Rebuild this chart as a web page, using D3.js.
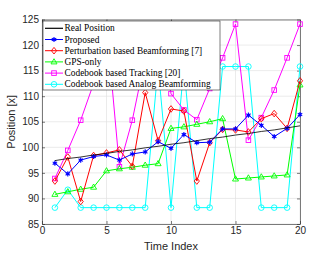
<!DOCTYPE html>
<html>
<head>
<script src="https://d3js.org/d3.v7.min.js"></script>
<style>
  body { margin: 0; background: #fff; }
</style>
</head>
<body>
<svg width="332" height="255"></svg>
<script>
var timeIndex = [1,2,3,4,5,6,7,8,9,10,11,12,13,14,15,16,17,18,19,20];
var realPos   = [97.4,97.8,98.1,98.5,98.8,99.2,99.5,99.9,100.2,100.6,100.9,101.3,101.7,102.0,102.4,102.7,103.1,103.4,103.8,104.2];
var proposed  = [96.9,94.8,97.5,98.2,98.5,97.5,98.7,99.1,101.1,99.8,102.5,100.9,101.0,103.6,103.6,106.3,104.3,102.1,103.7,106.4];
var perturb   = [93.4,98.1,89.4,98.4,98.9,99.5,96.3,110.7,101.3,107.5,107.1,93.4,100.9,103.5,103.4,103.0,105.6,106.6,103.7,113.0];
var gpsOnly   = [90.8,91.3,91.8,92.2,95.4,95.8,96.1,96.5,96.8,103.7,104.0,104.5,105.0,105.6,93.8,94.0,94.2,94.4,94.6,112.2];
var cbTrack   = [93.9,99.4,105.3,112.5,124.1,96.2,105.3,117.5,124.1,110.5,107.3,105.4,111.5,117.5,124.1,101.4,105.8,111.2,117.5,124.1];
var cbAnalog  = [88.2,91.7,88.2,88.2,88.2,88.2,88.2,88.2,115.8,88.2,115.8,88.2,88.2,115.8,115.8,115.8,88.2,88.2,88.2,115.8];
var xTicks = [0,5,10,15,20];
var yTicks = [85,90,95,100,105,110,115,120,125];

var series = [
  {name: "Real Position", values: realPos, color: "#000000", marker: "none"},
  {name: "Proposed", values: proposed, color: "#0000ff", marker: "star"},
  {name: "Perturbation based Beamforming [7]", values: perturb, color: "#ff0000", marker: "diamond"},
  {name: "GPS-only", values: gpsOnly, color: "#00ff00", marker: "triangle"},
  {name: "Codebook based Tracking [20]", values: cbTrack, color: "#ff00ff", marker: "square"},
  {name: "Codebook based Analog Beamforming", values: cbAnalog, color: "#00ffff", marker: "circle"}
];

var svg = d3.select("svg"),
    margin = {top: 19.5, right: 32, bottom: 31, left: 42},
    width = 332 - margin.left - margin.right,
    height = 255 - margin.top - margin.bottom;

var x = d3.scaleLinear().domain([0, 20]).range([0, width]);
var y = d3.scaleLinear().domain([85, 125]).range([height, 0]);

var g = svg.append("g")
    .attr("transform", "translate(" + margin.left + "," + margin.top + ")");

// grid
g.append("g").selectAll("line").data(xTicks).enter().append("line")
  .attr("x1", function(d){ return x(d); }).attr("x2", function(d){ return x(d); })
  .attr("y1", 0).attr("y2", height)
  .attr("stroke", "#e3e3e3").attr("stroke-width", 0.7);
g.append("g").selectAll("line").data(yTicks).enter().append("line")
  .attr("y1", function(d){ return y(d); }).attr("y2", function(d){ return y(d); })
  .attr("x1", 0).attr("x2", width)
  .attr("stroke", "#e3e3e3").attr("stroke-width", 0.7);

// axes
var xaxis = d3.axisBottom(x).tickValues(xTicks).tickSize(-3).tickSizeOuter(0);
var yaxis = d3.axisLeft(y).tickValues(yTicks).tickSize(-3).tickSizeOuter(0);

g.append("g").attr("transform", "translate(0," + height + ")").call(customAxis, xaxis);
g.append("g").call(customAxis, yaxis);
g.append("g").call(customAxis, d3.axisTop(x).tickValues(xTicks).tickSize(-3).tickSizeOuter(0).tickFormat(""));
g.append("g").attr("transform", "translate(" + width + ",0)")
  .call(customAxis, d3.axisRight(y).tickValues(yTicks).tickSize(-3).tickSizeOuter(0).tickFormat(""));

function customAxis(sel, ax) {
  sel.call(ax);
  sel.select(".domain").attr("stroke", "#262626").attr("stroke-width", 0.6);
  sel.selectAll("line").attr("stroke", "#262626").attr("stroke-width", 0.6);
  sel.selectAll("text")
    .style("font-family", "Liberation Sans, Arial, sans-serif")
    .style("font-size", "10px")
    .attr("fill", "#262626");
}

// lines
var line = d3.line()
  .x(function(d, i){ return x(timeIndex[i]); })
  .y(function(d){ return y(d); });

function drawMarker(sel, type, color, cx, cy) {
  var s = 2.6;
  if (type === "star") {
    var p = sel.append("g").attr("transform", "translate(" + cx + "," + cy + ")");
    [0, 60, 120].forEach(function(a){
      p.append("line").attr("x1", -s).attr("x2", s).attr("y1", 0).attr("y2", 0)
        .attr("transform", "rotate(" + (a + 90) + ")")
        .attr("stroke", color).attr("stroke-width", 1.1);
    });
    p.append("circle").attr("r", 1.3).attr("fill", color);
  } else if (type === "diamond") {
    sel.append("path").attr("d", "M" + cx + "," + (cy - 3.3) + "L" + (cx + 2.6) + "," + cy + "L" + cx + "," + (cy + 3.3) + "L" + (cx - 2.6) + "," + cy + "Z")
      .attr("fill", "none").attr("stroke", color).attr("stroke-width", 0.9);
  } else if (type === "triangle") {
    sel.append("path").attr("d", "M" + cx + "," + (cy - 3.2) + "L" + (cx + 3) + "," + (cy + 2) + "L" + (cx - 3) + "," + (cy + 2) + "Z")
      .attr("fill", "none").attr("stroke", color).attr("stroke-width", 0.9);
  } else if (type === "square") {
    sel.append("rect").attr("x", cx - 2.3).attr("y", cy - 2.3).attr("width", 4.6).attr("height", 4.6)
      .attr("fill", "none").attr("stroke", color).attr("stroke-width", 0.9);
  } else if (type === "circle") {
    sel.append("circle").attr("cx", cx).attr("cy", cy).attr("r", 2.8)
      .attr("fill", "none").attr("stroke", color).attr("stroke-width", 0.9);
  }
}

var plot = g.append("g");
series.slice().reverse().forEach(function(s) {
  var sg = plot.append("g");
  sg.append("path").datum(s.values)
    .attr("d", line).attr("fill", "none")
    .attr("stroke", s.color).attr("stroke-width", s.marker === "none" ? 0.8 : 1);
  s.values.forEach(function(v, i){
    drawMarker(sg, s.marker, s.color, x(timeIndex[i]), y(v));
  });
});

// legend
var legend = g.append("g").attr("transform", "translate(1,1.5)");
legend.append("rect").attr("x", 0).attr("y", 0).attr("width", 177).attr("height", 69)
  .attr("fill", "#ffffff").attr("stroke", "#262626").attr("stroke-width", 0.6);
series.forEach(function(s, i) {
  var ly = 7.3 + i * 11.2;
  legend.append("line").attr("x1", 2).attr("x2", 20).attr("y1", ly).attr("y2", ly)
    .attr("stroke", s.color).attr("stroke-width", s.marker === "none" ? 1.2 : 1);
  drawMarker(legend, s.marker, s.color, 11, ly);
  legend.append("text").attr("x", 21.5).attr("y", ly + 3)
    .style("font-family", "'Liberation Serif', 'DejaVu Serif', serif")
    .style("font-size", "9.4px")
    .style("font-weight", "normal")
    .attr("fill", "#000")
    .text(s.name);
});

// axis labels
svg.append("text")
  .attr("x", margin.left + width / 2).attr("y", 250)
  .attr("text-anchor", "middle")
  .style("font-family", "Liberation Sans, Arial, sans-serif")
  .style("font-size", "11px").attr("fill", "#262626")
  .text("Time Index");
svg.append("text")
  .attr("transform", "translate(15," + (margin.top + height / 2) + ") rotate(-90)")
  .attr("text-anchor", "middle")
  .style("font-family", "Liberation Sans, Arial, sans-serif")
  .style("font-size", "11px").attr("fill", "#262626")
  .text("Position [x]");
</script>
</body>
</html>
